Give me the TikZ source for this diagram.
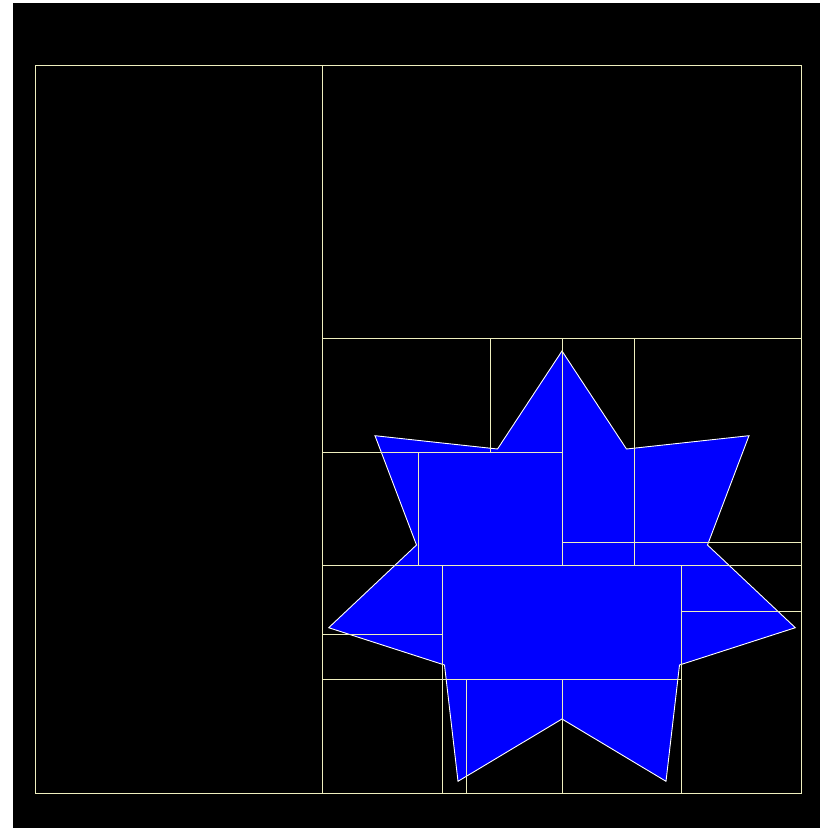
\documentclass[tikz,border=0pt]{standalone}
\definecolor{gridline}{RGB}{238,238,190}
\begin{document}
\begin{tikzpicture}[x=1pt,y=-1pt]
  \tikzset{
    canvas/.style={fill=black,draw=none},
    blob/.style={fill=blue,draw=white,line width=0.9pt,line join=miter},
    cell/.style={draw=gridline,line width=0.9pt}
  }
  \useasboundingbox (0,0) rectangle (820,828);
  \fill[white] (0,0) rectangle (820,828);
  \fill[canvas] (13.3,3.3) rectangle (819.5,828);

  % Star-shaped region, mirrored about x = 562
  \draw[blob] (562,351) -- (626.5,449) -- (749,435.7) -- (707.5,545)
    -- (795.3,627.7) -- (679.5,665) -- (666,781.3) -- (562,719)
    -- (458,781.3) -- (444.5,665) -- (328.7,627.7) -- (416.5,545)
    -- (375,435.7) -- (497.5,449) -- cycle;

  % Subdivision cells, drawn over the region
  \draw[cell] (35,65) rectangle (801.7,793);
  \foreach \x/\ya/\yb in {322/65/793, 562/338.3/565.7, 562/679.3/793,
      490.3/338.3/452.3, 418.3/452.3/565.7, 634/338.3/565.7,
      442.3/565.7/793, 466.3/679.3/793, 681.7/565.7/793} {
    \draw[cell] (\x,\ya) -- (\x,\yb);
  }
  \foreach \y/\xa/\xb in {338.3/322/801.7, 565.7/322/801.7, 452.3/322/562,
      542.7/562/801.7, 634.3/322/442.3, 679.3/322/681.7, 611/681.7/801.7} {
    \draw[cell] (\xa,\y) -- (\xb,\y);
  }
\end{tikzpicture}
\end{document}
